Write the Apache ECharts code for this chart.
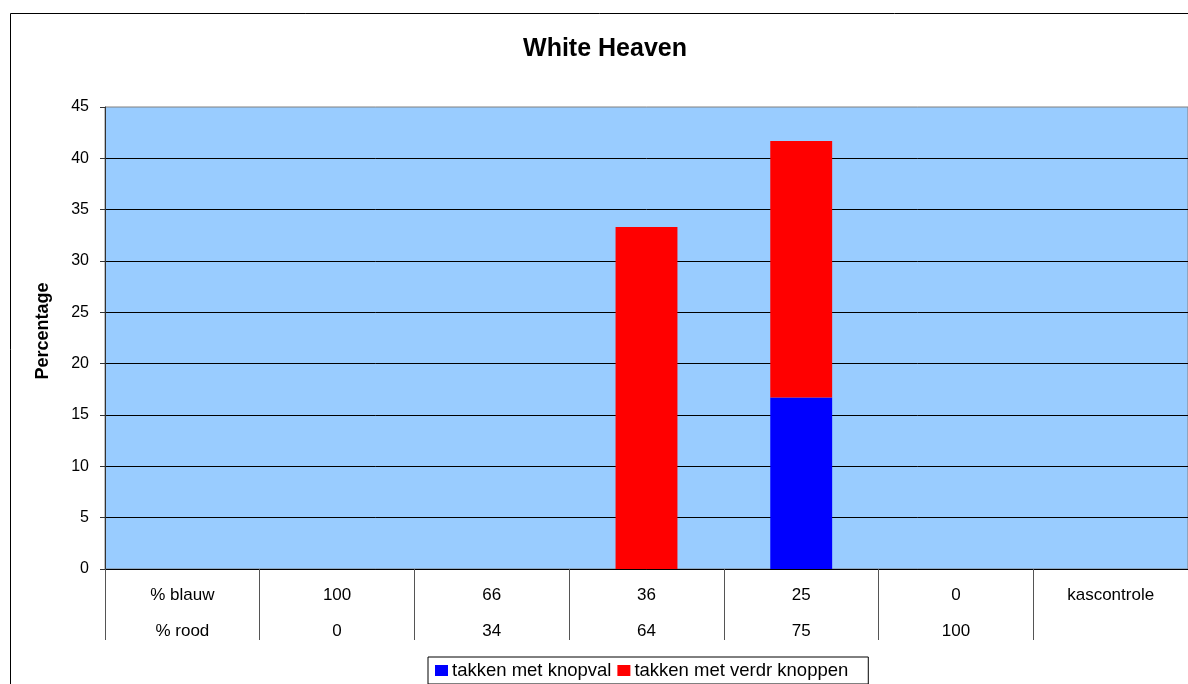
<!DOCTYPE html>
<html>
<head>
<meta charset="utf-8">
<script src="https://cdn.jsdelivr.net/npm/echarts@6/dist/echarts.min.js"></script>
<style>
  html, body { margin: 0; padding: 0; background: #fff; }
  #chart { width: 1188px; height: 684px; }
</style>
</head>
<body>
<div id="chart"></div>
<script>
// Treatment rows shown under each column
const blauwLabels = ['% blauw', '100', '66', '36', '25', '0', 'kascontrole'];
const roodLabels  = ['% rood', '0', '34', '64', '75', '100', ''];

// Percentage of branches per treatment
const knopval = [0, 0, 0, 0, 16.7, 0, 0];
const verdrKnoppen = [0, 0, 0, 33.3, 25.0, 0, 0];

const seriesNames = ['takken met knopval', 'takken met verdr knoppen'];
const yTicks = { min: 0, max: 45, interval: 5 };

const categories = blauwLabels.map((b, i) => b + '\n' + roodLabels[i]);

const font = 'Liberation Sans, Arial, sans-serif';
const chart = echarts.init(document.getElementById('chart'));
chart.setOption({
  animation: false,
  backgroundColor: '#ffffff',
  graphic: [{
    type: 'rect',
    shape: { x: 10.5, y: 13.5, width: 1200, height: 700 },
    style: { fill: 'none', stroke: '#000', lineWidth: 1 },
    silent: true
  }],
  title: {
    text: 'White Heaven',
    left: 600, top: 32, textAlign: 'center',
    textStyle: { fontFamily: font, fontSize: 25, fontWeight: 'bold', color: '#000' }
  },
  legend: {
    data: seriesNames,
    left: 428, top: 657,
    itemWidth: 13, itemHeight: 11, itemGap: 6,
    borderColor: '#000', borderWidth: 1, padding: [4, 20, 4, 7],
    icon: 'rect',
    textStyle: { fontFamily: font, fontSize: 18.5, color: '#000', padding: [0, 0, 0, -1] }
  },
  grid: {
    left: 105, right: -2, top: 107, bottom: 115,
    show: true, backgroundColor: '#99CCFF', borderColor: '#808080', borderWidth: 1
  },
  xAxis: {
    type: 'category',
    data: categories,
    axisLine: { lineStyle: { color: '#000', width: 1 } },
    axisTick: { show: true, length: 71, alignWithLabel: false, lineStyle: { color: '#555' } },
    axisLabel: {
      interval: 0, margin: 8,
      fontFamily: font, fontSize: 17, color: '#000', lineHeight: 36
    },
    splitLine: { show: false }
  },
  yAxis: {
    type: 'value',
    min: yTicks.min, max: yTicks.max, interval: yTicks.interval,
    name: 'Percentage',
    nameLocation: 'middle', nameGap: 53, nameRotate: 90,
    nameTextStyle: { fontFamily: font, fontSize: 18, fontWeight: 'bold', color: '#000', padding: [0, 0, 0, 14] },
    axisLine: { show: true, lineStyle: { color: '#333', width: 1 } },
    axisTick: { show: true, length: 5, lineStyle: { color: '#333' } },
    axisLabel: { margin: 16, fontFamily: font, fontSize: 16, color: '#000' },
    splitLine: { show: true, showMaxLine: false, lineStyle: { color: '#000', width: 1 } }
  },
  series: [
    {
      name: seriesNames[0], type: 'bar', stack: 'total',
      data: knopval, barWidth: '40%',
      itemStyle: { color: '#0000FF' }
    },
    {
      name: seriesNames[1], type: 'bar', stack: 'total',
      data: verdrKnoppen, barWidth: '40%',
      itemStyle: { color: '#FF0000' }
    }
  ]
});
</script>
</body>
</html>
